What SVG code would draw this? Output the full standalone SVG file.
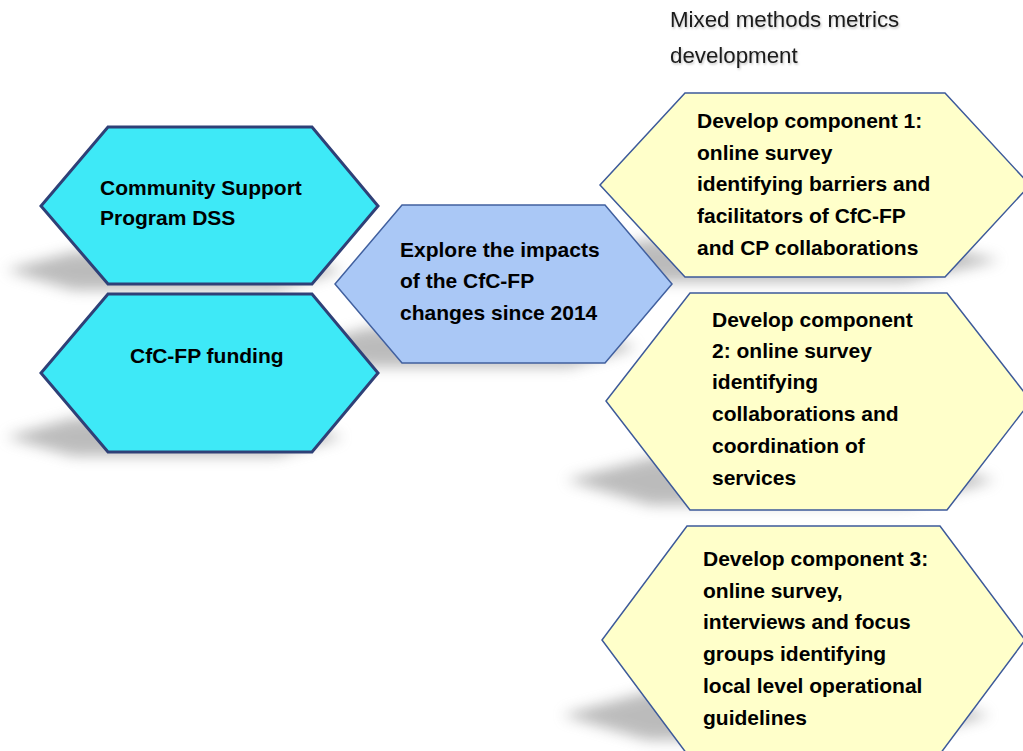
<svg xmlns="http://www.w3.org/2000/svg" width="1023" height="751" viewBox="0 0 1023 751">
<style>
.cyan{fill:#3EE9F7;stroke:#2F4077;stroke-width:3;stroke-linejoin:miter}
.blue{fill:#AAC8F6;stroke:#41609F;stroke-width:1.5}
.yel{fill:#FFFFCA;stroke:#3D5A9A;stroke-width:1.5}
.sh{fill:#7a7a7a;opacity:0.5;filter:url(#blur)}
.t{font-family:"Liberation Sans",Arial,sans-serif;font-weight:bold;font-size:21px;fill:#000}
.title{font-family:"Liberation Sans",Arial,sans-serif;font-size:22.3px;fill:#1a1a1a;filter:url(#tsh)}
</style>
<defs>
<filter id="blur" x="-20%" y="-100%" width="140%" height="300%"><feGaussianBlur stdDeviation="7"/></filter>
<filter id="tsh" x="-5%" y="-20%" width="110%" height="160%"><feDropShadow dx="1" dy="1.5" stdDeviation="1" flood-color="#000" flood-opacity="0.25"/></filter>
</defs>
<rect width="1023" height="751" fill="#fff"/>
<g id="shadows">
<polygon class="sh" points="73,252 277,252 343,270 277,290 73,290 6,270"/>
<polygon class="sh" points="73,418 277,418 343,437 277,456 73,456 6,437"/>
<polygon class="sh" points="367,328 570,328 637,347 570,367 367,367 300,347"/>
<polygon class="sh" points="645,240 905,240 1000,260 905,282 645,282 560,260"/>
<polygon class="sh" points="650,458 907,458 995,480 907,505 650,505 566,480"/>
<polygon class="sh" points="647,692 900,692 990,715 900,740 647,740 562,715"/>
</g>
<g id="node-csp">
<polygon class="cyan" points="108,127 312,127 378,206 312,284 108,284 41,206"/>
<text class="t" x="100" y="195">Community Support</text>
<text class="t" x="100" y="225">Program DSS</text>
</g>
<g id="node-funding">
<polygon class="cyan" points="108,294 312,294 378,373 312,452 108,452 41,373"/>
<text class="t" x="130" y="363">CfC-FP funding</text>
</g>
<g id="node-explore">
<polygon class="blue" points="402,205 605,205 672,284 605,363 402,363 335,284"/>
<text class="t" x="400" y="257">Explore the impacts</text>
<text class="t" x="400" y="288">of the CfC-FP</text>
<text class="t" x="400" y="320">changes since 2014</text>
</g>
<g id="title">
<text class="title" x="670" y="27">Mixed methods metrics</text>
<text class="title" x="670" y="63">development</text>
</g>
<g id="node-c1">
<polygon class="yel" points="685,93 945,93 1030,185 945,277 685,277 600,185"/>
<text class="t" x="697" y="128">Develop component 1:</text>
<text class="t" x="697" y="160">online survey</text>
<text class="t" x="697" y="191">identifying barriers and</text>
<text class="t" x="697" y="223">facilitators of CfC-FP</text>
<text class="t" x="697" y="255">and CP collaborations</text>
</g>
<g id="node-c2">
<polygon class="yel" points="690,293 947,293 1031,401 947,510 690,510 606,401"/>
<text class="t" x="712" y="327">Develop component</text>
<text class="t" x="712" y="358">2: online survey</text>
<text class="t" x="712" y="389">identifying</text>
<text class="t" x="712" y="421">collaborations and</text>
<text class="t" x="712" y="453">coordination of</text>
<text class="t" x="712" y="485">services</text>
</g>
<g id="node-c3">
<polygon class="yel" points="687,526 940,526 1025,640 940,754 687,754 602,640"/>
<text class="t" x="703" y="566">Develop component 3:</text>
<text class="t" x="703" y="598">online survey,</text>
<text class="t" x="703" y="629">interviews and focus</text>
<text class="t" x="703" y="661">groups identifying</text>
<text class="t" x="703" y="693">local level operational</text>
<text class="t" x="703" y="725">guidelines</text>
</g>
<g id="connectors"></g>
</svg>
